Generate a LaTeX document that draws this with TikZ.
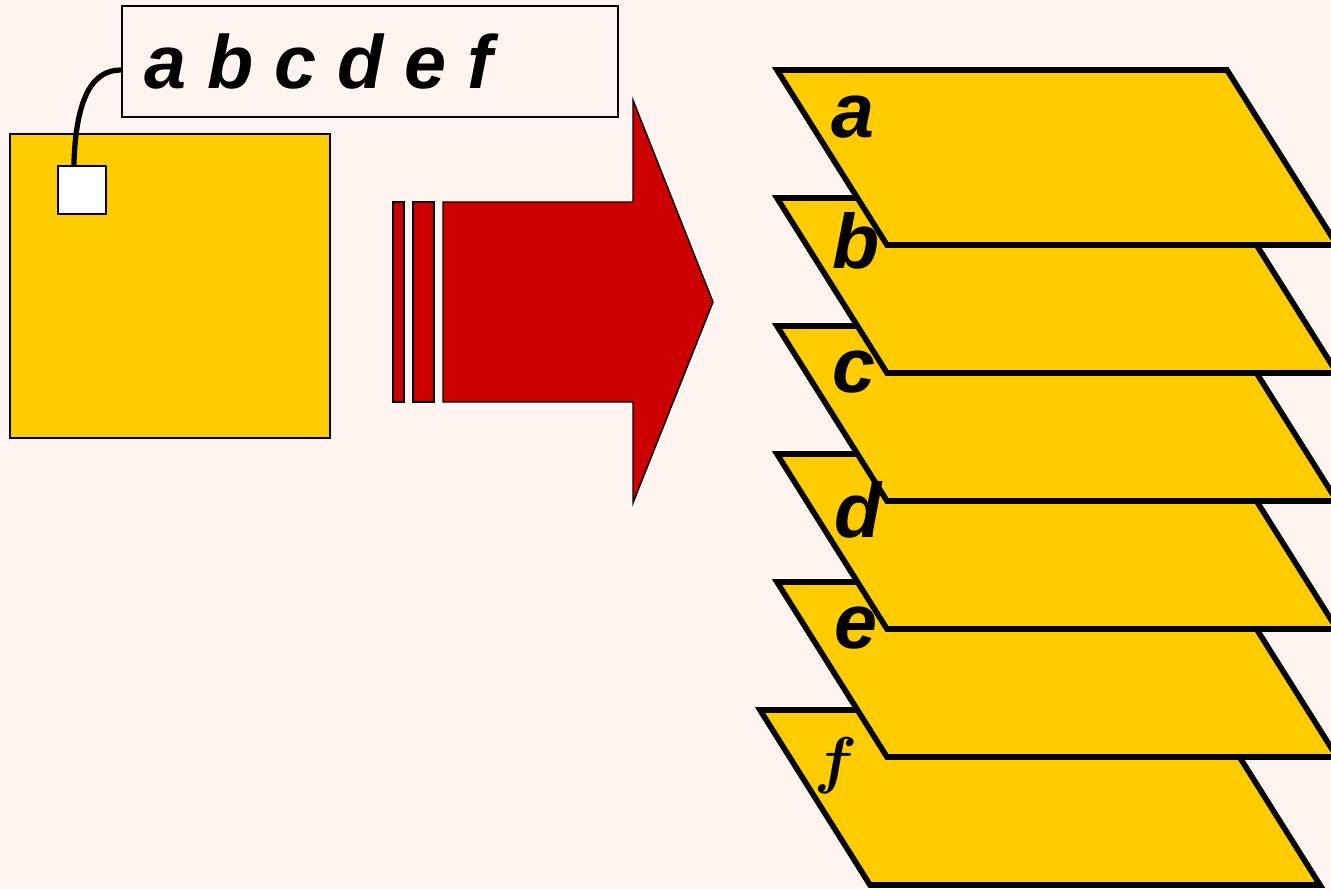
\RequirePackage{fix-cm}
\documentclass[tikz,border=0pt]{standalone}
\usepackage{fontspec}
\newfontfamily\arialfont{Liberation Sans}
\usetikzlibrary{positioning}
\definecolor{paper}{HTML}{FFF4EF}
\definecolor{gold}{HTML}{FFCC00}
\definecolor{signal}{HTML}{CC0000}

\begin{document}
\begin{tikzpicture}[
  x=0.02cm, y=-0.02cm,
  slab/.style={draw, line width=3.2pt, fill=gold},
  letter/.style={anchor=base west, inner sep=0pt,
                 font=\arialfont\bfseries\itshape\fontsize{44}{50}\selectfont},
  redbar/.style={draw, line width=0.8pt, fill=signal},
  box/.style={draw, line width=1.1pt, inner sep=0pt}
]
\fill[paper] (0,0) rectangle (1331,889);
\useasboundingbox (0,0) rectangle (1331,889);

% wafer and its cell
\node[box, fill=gold, minimum width=6.4cm, minimum height=6.08cm] (wafer) at (170,286) {};
\node[box, fill=white, minimum width=0.96cm, minimum height=0.96cm] (cell) at (82,190) {};
\node[box, fill=paper, minimum width=9.92cm, minimum height=2.22cm] (stack) at (370,61.5) {};
\node[letter, font=\arialfont\bfseries\itshape\fontsize{43}{50}\selectfont] (seq) at (144,88) {a b c d e f};
\coordinate (tap) at (stack.west |- 0,70);
\draw[line width=3pt] (cell.108) .. controls +(2,-71) and +(-27,0) .. (tap);

% big arrow
\draw[redbar] (393,202) rectangle (404,402);
\draw[redbar] (413,202) rectangle (434,402);
\draw[redbar] (443,202) -- (633,202) -- (633,100) -- (713,302)
  -- (633,503) -- (633,402) -- (443,402) -- cycle;

% layers, bottom one first
\foreach \i/\dx in {5/-17,4/0,3/0,2/0,1/0,0/0}{
  \draw[slab] (777+\dx,70+128*\i) -- ++(450,0) -- ++(110,175) -- ++(-450,0) -- cycle;
}
\node[letter] (la) at (831,137) {a};
\node[letter] (lb) at (832,268) {b};
\node[letter] (lc) at (832,392) {c};
\node[letter] (ld) at (834,537) {d};
\node[letter] (le) at (834,648) {e};
\node[anchor=base west, inner sep=0pt, font=\boldmath\fontsize{36}{40}\selectfont] (lf) at (814,781) {$f$};
\end{tikzpicture}
\end{document}
